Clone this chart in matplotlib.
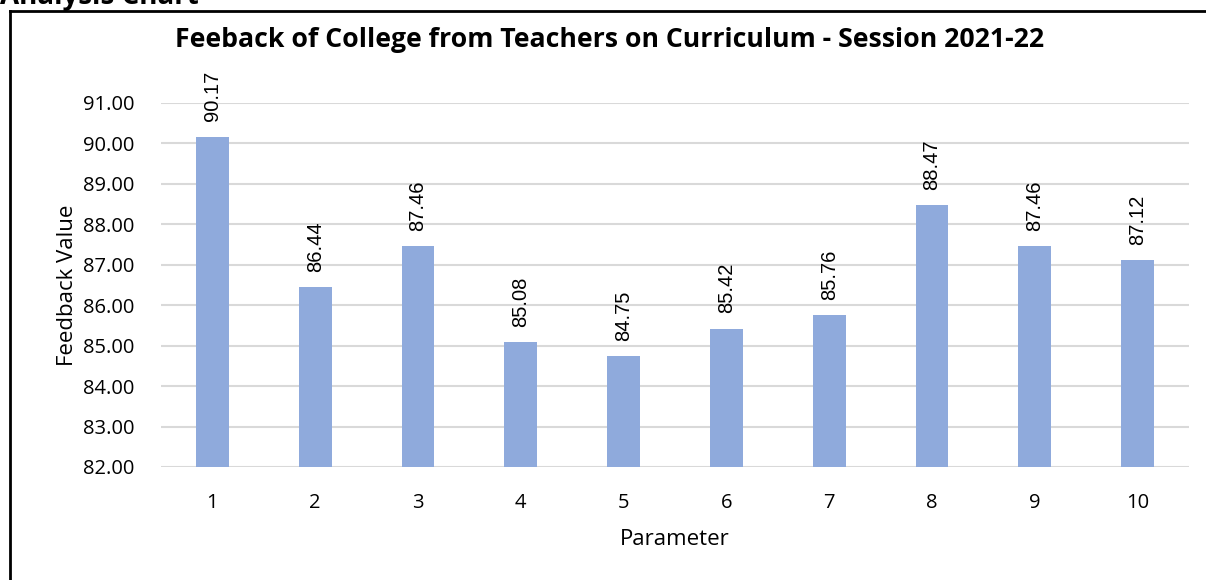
import matplotlib
matplotlib.use("Agg")
import matplotlib.pyplot as plt
from matplotlib.lines import Line2D

params = [1, 2, 3, 4, 5, 6, 7, 8, 9, 10]
values = [90.17, 86.44, 87.46, 85.08, 84.75, 85.42, 85.76, 88.47, 87.46, 87.12]
yticks = [82, 83, 84, 85, 86, 87, 88, 89, 90, 91]

plt.rcParams['font.family'] = ['Open Sans', 'DejaVu Sans']

W, H = 1206, 580
fig = plt.figure(figsize=(W / 100, H / 100), dpi=100)
ax = fig.add_axes([161 / W, 1 - 467 / H, (1189 - 161) / W, (467 - 103) / H])

bars = ax.bar(params, [v - 82 for v in values], width=0.32, bottom=82,
              color='#8faadc', zorder=3)
for b, v in zip(bars, values):
    ax.annotate(f"{v:.2f}", (b.get_x() + b.get_width() / 2, v),
                xytext=(0, 11), textcoords='offset points',
                rotation=90, ha='center', va='bottom', fontsize=14.5,
                family='Liberation Sans', annotation_clip=False)

ax.set_xlim(0.5, 10.5)
ax.set_ylim(82, 91)
ax.set_yticks(yticks)
ax.set_yticklabels([f"{t:.2f}" for t in yticks])
ax.set_xticks(params)
ax.tick_params(length=0, labelsize=14.5)
ax.tick_params(axis='x', pad=19)
ax.tick_params(axis='y', pad=19)
ax.grid(axis='y', color='#d9d9d9', linewidth=1.5, zorder=0)
for s in ax.spines.values():
    s.set_visible(False)

ax.set_xlabel('Parameter', fontsize=16, labelpad=11)
ax.set_ylabel('Feedback Value', fontsize=16, labelpad=4)
fig.text(610 / W, 1 - 40 / H, 'Feeback of College from Teachers on Curriculum - Session 2021-22',
         ha='center', va='center', fontsize=19.2, fontweight='bold')

# top text cut off by the page edge, plus the frame of the chart
fig.text(0, 1 - 4 / H, 'Analysis Chart', ha='left', va='baseline',
         fontsize=20, fontweight='bold')
fig.add_artist(Line2D([10 / W, 1], [1 - 11 / H, 1 - 11 / H], color='black', linewidth=2))
fig.add_artist(Line2D([10 / W, 10 / W], [0, 1 - 11 / H], color='black', linewidth=2))

fig.savefig('out.png', dpi=100)
